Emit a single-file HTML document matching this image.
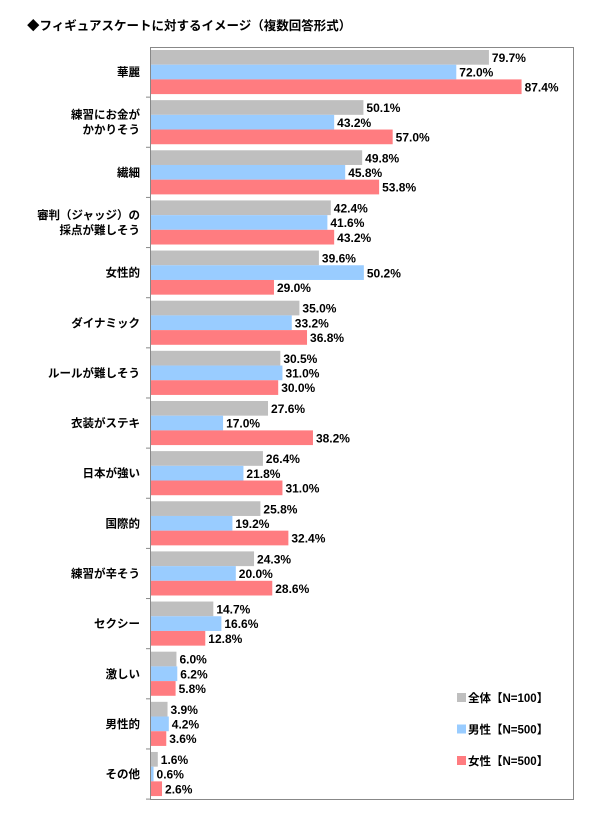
<!DOCTYPE html>
<html><head><meta charset="utf-8"><style>
body{margin:0;background:#fff;width:605px;height:819px;overflow:hidden;font-family:"Liberation Sans","Noto Sans CJK JP",sans-serif}
svg text{font-family:"Liberation Sans","Noto Sans CJK JP",sans-serif;font-weight:bold;fill:#000}
</style></head><body>
<svg id="chart" width="605" height="819">
<text x="27" y="30" font-size="12.5">◆フィギュアスケートに対するイメージ（複数回答形式）</text>
<rect x="150.5" y="47.5" width="423" height="752" fill="none" stroke="#888"/>
<g id="marks"></g>
</svg>
<script>
const categories=[["華麗"],["練習にお金が","かかりそう"],["繊細"],["審判（ジャッジ）の","採点が難しそう"],["女性的"],["ダイナミック"],["ルールが難しそう"],["衣装がステキ"],["日本が強い"],["国際的"],["練習が辛そう"],["セクシー"],["激しい"],["男性的"],["その他"]];
const totalValues=[79.7,50.1,49.8,42.4,39.6,35.0,30.5,27.6,26.4,25.8,24.3,14.7,6.0,3.9,1.6];
const maleValues=[72.0,43.2,45.8,41.6,50.2,33.2,31.0,17.0,21.8,19.2,20.0,16.6,6.2,4.2,0.6];
const femaleValues=[87.4,57.0,53.8,43.2,29.0,36.8,30.0,38.2,31.0,32.4,28.6,12.8,5.8,3.6,2.6];
const seriesNames=["全体【N=100】","男性【N=500】","女性【N=500】"];
const colors=["#bfbfbf","#99ccff","#ff7c80"];
const NS="http://www.w3.org/2000/svg";
const g=document.getElementById('marks');
const x0=151,pxPer=4.24,top0=47,pitch=50.14,barH=14.7;
const xs=v=>x0+v*pxPer;
function el(t,a){const e=document.createElementNS(NS,t);for(const k in a)e.setAttribute(k,a[k]);g.appendChild(e);return e;}
const series=[totalValues,maleValues,femaleValues];
categories.forEach((lab,i)=>{
  const gy=top0+i*pitch;
  const tk=el('line',{x1:146,x2:151,y1:gy+pitch,y2:gy+pitch,stroke:'#888'});
  
  
  const cy=gy+pitch/2;
  lab.forEach((l,j)=>{
    const t=el('text',{x:140,y:cy+4+(j-(lab.length-1)/2)*15,'font-size':11.5,'text-anchor':'end'});
    t.textContent=l;
    
    
  });
  series.forEach((arr,s)=>{
    const y=gy+3+s*barH;
    const r=el('rect',{x:x0,y:y,width:Math.max(0,xs(arr[i])-x0),height:barH,fill:colors[s]});
    
    
    const t=el('text',{x:xs(arr[i])+3,y:y+12,'font-size':12});
    t.textContent=arr[i].toFixed(1)+'%';
    
    
  });
});
seriesNames.forEach((n,s)=>{
  const y=693+s*31.5;
  const r=el('rect',{x:457,y:y,width:9,height:9,fill:colors[s]});
  
  
  const t=el('text',{x:468,y:y+9,'font-size':11.5});
  t.textContent=n;
  
  
});
</script>
</body></html>
